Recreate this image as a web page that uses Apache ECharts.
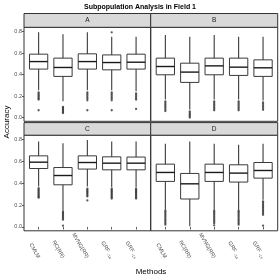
<!DOCTYPE html>
<html><head><meta charset="utf-8">
<script src="https://cdn.jsdelivr.net/npm/echarts@6/dist/echarts.min.js"></script>
<style>html,body{margin:0;padding:0;background:#fff}#c{width:280px;height:280px}</style>
</head><body><div id="c"></div>
<script>
const categories = ['CMLM','RC(RR)','MVNG(RR)','GRF_-1a','GRF_-1s'];
const panelNames = ['A','B','C','D'];
const yTicks = [0, 0.2, 0.4, 0.6, 0.8];
// [min whisker, Q1, median, Q3, max whisker]
const statsA = [[0.253,0.451,0.521,0.590,0.793],[0.151,0.383,0.466,0.553,0.775],[0.253,0.451,0.521,0.593,0.793],[0.253,0.444,0.512,0.583,0.753],[0.244,0.451,0.515,0.590,0.753]];
const statsB = [[0.167,0.398,0.475,0.553,0.769],[0.074,0.327,0.423,0.506,0.753],[0.167,0.398,0.481,0.553,0.769],[0.167,0.392,0.469,0.553,0.753],[0.158,0.383,0.463,0.537,0.753]];
const statsC = [[0.370,0.535,0.593,0.651,0.782],[0.152,0.386,0.471,0.544,0.767],[0.370,0.530,0.590,0.651,0.797],[0.364,0.523,0.584,0.642,0.782],[0.364,0.523,0.584,0.640,0.782]];
const statsD = [[0.158,0.417,0.499,0.575,0.761],[0.006,0.256,0.395,0.490,0.782],[0.158,0.417,0.499,0.575,0.761],[0.158,0.411,0.493,0.569,0.752],[0.249,0.447,0.517,0.590,0.761]];
const outA = [[0.234,0.222,0.210,0.198,0.187,0.176,0.167,0.068],[0.099,0.090,0.080,0.070,0.060,0.050,0.042],[0.234,0.220,0.205,0.190,0.175,0.160,0.068],[0.793,0.234,0.220,0.205,0.190,0.175,0.160,0.068],[0.225,0.210,0.195,0.180,0.167,0.080]];
const outB = [[0.151,0.138,0.125,0.112,0.099,0.086,0.072,0.060],[0.058,0.046,0.034,0.022,0.010,0.000],[0.151,0.138,0.124,0.110,0.096,0.082,0.068],[0.151,0.138,0.124,0.110,0.096,0.082,0.068],[0.142,0.128,0.114,0.100,0.086,0.072]];
const outC = [[0.355,0.345,0.335,0.325,0.315,0.305,0.295,0.285,0.275,0.268],[0.143,0.132,0.121,0.110,0.099,0.088,0.077,0.067,0.012],[0.350,0.340,0.330,0.320,0.310,0.300,0.290,0.280,0.243],[0.350,0.340,0.330,0.320,0.310,0.300,0.290,0.280,0.270,0.260],[0.350,0.340,0.330,0.320,0.310,0.300,0.290,0.280,0.270,0.260]];
const outD = [[0.149,0.137,0.125,0.113,0.100,0.088,0.075,0.062,0.048,0.035,0.021],[],[0.149,0.137,0.125,0.113,0.100,0.088,0.075,0.062,0.048,0.035,0.015],[0.149,0.137,0.125,0.113,0.100,0.088,0.075,0.062,0.048,0.035,0.021],[0.234,0.222,0.210,0.198,0.186,0.174,0.162,0.150,0.138,0.125,0.112,0.012]];

const allStats = [statsA, statsB, statsC, statsD];
const allOut = [outA, outB, outC, outD];

const FONT = 'Liberation Sans, Arial, sans-serif';
const YMIN = -0.035, YMAX = 0.84;
const colX = [[24, 150.7], [150.7, 277.7]];
const rowY = [[27.3, 121.3], [135.2, 230.8]];
const stripY = [[13.5, 27.3], [122.6, 135.2]];

const grids = [], xAxes = [], yAxes = [], series = [], graphics = [];
for (let p = 0; p < 4; p++) {
  const col = p % 2, row = Math.floor(p / 2);
  const [x0, x1] = colX[col];
  const [y0, y1] = rowY[row];
  const W = x1 - x0;
  const u = W / 5.2;
  grids.push({left: x0 + 0.1 * u, width: 5 * u, top: y0, height: y1 - y0});
  xAxes.push({
    type: 'category', gridIndex: p, data: categories, boundaryGap: true,
    show: row === 1,
    axisLine: {show: false},
    axisTick: {show: true, alignWithLabel: true, length: 2.5, lineStyle: {color: '#333', width: 0.8}},
    axisLabel: {
      interval: 0, rotate: -60, align: 'right', verticalAlign: 'middle', margin: 27,
      fontSize: 5.5, color: '#4d4d4d', fontFamily: FONT,
      formatter: function (v) {
        if (v.indexOf('GRF_') === 0) return 'GRF {s|' + v.slice(4) + '}';
        return v;
      },
      rich: {s: {fontSize: 3.8, color: '#4d4d4d', fontFamily: FONT, padding: [3, 0, 0, 0]}}
    },
    splitLine: {show: false}
  });
  yAxes.push({
    type: 'value', gridIndex: p, min: YMIN, max: YMAX,
    show: col === 0, offset: 0.1 * u,
    axisLine: {show: false},
    axisTick: {show: true, length: 2, customValues: yTicks, lineStyle: {color: '#333', width: 0.8}},
    axisLabel: {customValues: yTicks, fontSize: 5.5, color: '#4d4d4d', margin: 2, fontFamily: FONT,
      formatter: v => v.toFixed(1)},
    splitLine: {show: false}
  });
  const boxData = allStats[p].map((s, i) => [i, s[0], s[1], s[2], s[3], s[4]]);
  series.push({
    type: 'custom', xAxisIndex: p, yAxisIndex: p, data: boxData,
    encode: {x: 0, y: [1, 2, 3, 4, 5]},
    renderItem: function (params, api) {
      const vals = [0, 1, 2, 3, 4, 5].map(d => api.value(d));
      const cs = vals.map(v => api.coord([vals[0], v]));
      const cx = cs[0][0];
      const bw = api.size([1, 0])[0] * 0.75;
      return {type: 'group', children: [
        {type: 'line', shape: {x1: cx, y1: cs[5][1], x2: cx, y2: cs[1][1]},
          style: {stroke: '#3a3a3a', lineWidth: 1.1}},
        {type: 'rect', shape: {x: cx - bw / 2, y: cs[4][1], width: bw, height: cs[2][1] - cs[4][1]},
          style: {fill: '#fff', stroke: '#3a3a3a', lineWidth: 1}},
        {type: 'line', shape: {x1: cx - bw / 2, y1: cs[3][1], x2: cx + bw / 2, y2: cs[3][1]},
          style: {stroke: '#1a1a1a', lineWidth: 1.4}}
      ]};
    }
  });
  const pts = [];
  allOut[p].forEach((arr, i) => arr.forEach(v => pts.push([i, v])));
  series.push({
    type: 'scatter', xAxisIndex: p, yAxisIndex: p, data: pts,
    symbolSize: 2.3, itemStyle: {color: '#333'}, z: 4, silent: true
  });
  graphics.push({type: 'rect', shape: {x: x0, y: y0, width: W, height: y1 - y0},
    style: {fill: null, stroke: '#333', lineWidth: 1}, z: 10});
  const [s0, s1] = stripY[row];
  graphics.push({type: 'rect', shape: {x: x0, y: s0, width: W, height: s1 - s0},
    style: {fill: '#d9d9d9', stroke: '#333', lineWidth: 1}, z: 10});
  graphics.push({type: 'text', x: (x0 + x1) / 2, y: (s0 + s1) / 2,
    style: {text: panelNames[p], textAlign: 'center', textVerticalAlign: 'middle',
      fontSize: 6.5, fontFamily: FONT, fill: '#1a1a1a'}, z: 11});
}
graphics.push({type: 'text', x: 140, y: 6.8,
  style: {text: 'Subpopulation Analysis in Field 1', textAlign: 'center', textVerticalAlign: 'middle',
    fontSize: 7, fontWeight: 'bold', fontFamily: FONT, fill: '#000'}, z: 11});
graphics.push({type: 'text', x: 151, y: 271.5,
  style: {text: 'Methods', textAlign: 'center', textVerticalAlign: 'middle',
    fontSize: 8, fontFamily: FONT, fill: '#000'}, z: 11});
graphics.push({type: 'text', x: 7, y: 122, rotation: Math.PI / 2,
  style: {text: 'Accuracy', textAlign: 'center', textVerticalAlign: 'middle',
    fontSize: 8, fontFamily: FONT, fill: '#000'}, z: 11});

const chart = echarts.init(document.getElementById('c'), null, {renderer: 'canvas'});
chart.setOption({
  animation: false,
  backgroundColor: '#fff',
  grid: grids, xAxis: xAxes, yAxis: yAxes, series: series, graphic: graphics
});
</script></body></html>
